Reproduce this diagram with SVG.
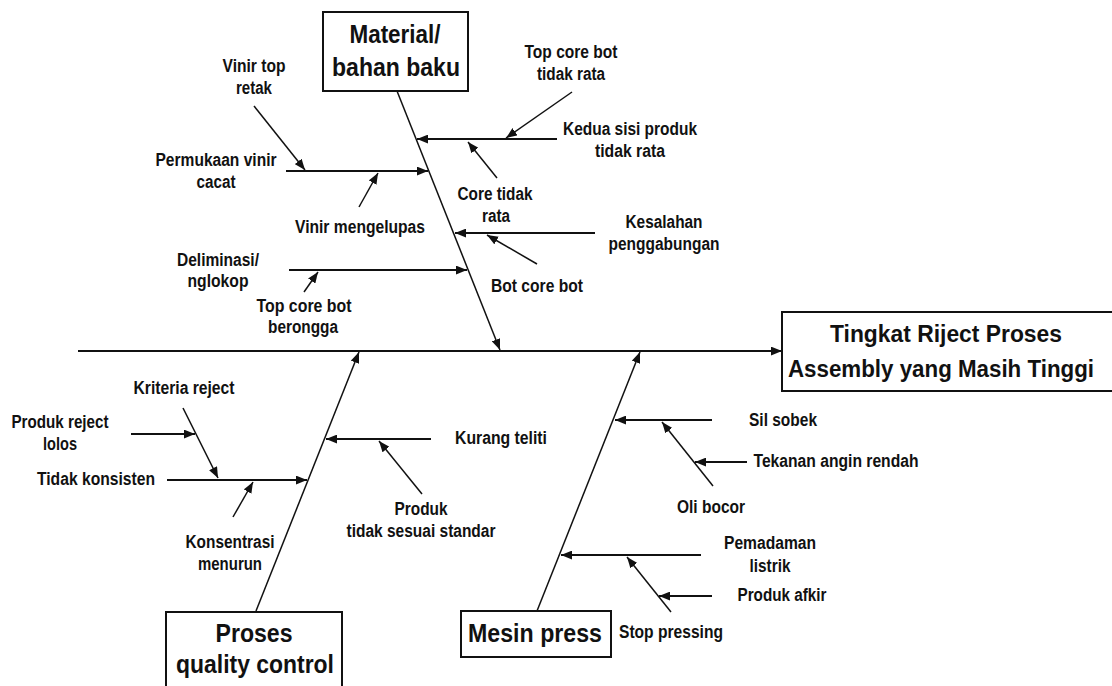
<svg xmlns="http://www.w3.org/2000/svg" width="1112" height="686" viewBox="0 0 1112 686">
<style>
.t{font-family:"Liberation Sans",Arial,sans-serif;font-weight:bold;fill:#111;text-anchor:middle}
.title{font-size:25px}
.eff{font-size:23px}
.lbl{font-size:17.5px}
.box{fill:#fff;stroke:#111;stroke-width:2}
.ln{stroke:#111;fill:none}
.h{stroke-width:2}
.d{stroke-width:1.5}
</style>
<defs>
<marker id="ah" viewBox="0 0 10 8" refX="10" refY="4" markerWidth="11" markerHeight="9" markerUnits="userSpaceOnUse" orient="auto">
<path d="M0,0L10,4L0,8z" fill="#111"/>
</marker>
</defs>
<rect width="1112" height="686" fill="#fff"/>
<g id="connectors">
<line class="ln h" x1="78" y1="351" x2="782" y2="351" marker-end="url(#ah)"/>
<line class="ln d" x1="397" y1="91" x2="500" y2="350" marker-end="url(#ah)"/>
<line class="ln d" x1="256" y1="611" x2="359" y2="352" marker-end="url(#ah)"/>
<line class="ln d" x1="537" y1="611" x2="640" y2="352" marker-end="url(#ah)"/>
<line class="ln h" x1="286" y1="171" x2="428" y2="171" marker-end="url(#ah)"/>
<line class="ln d" x1="254" y1="106" x2="305" y2="170" marker-end="url(#ah)"/>
<line class="ln d" x1="359" y1="207" x2="378" y2="173" marker-end="url(#ah)"/>
<line class="ln h" x1="289" y1="270" x2="467" y2="270" marker-end="url(#ah)"/>
<line class="ln d" x1="304" y1="292" x2="318" y2="272" marker-end="url(#ah)"/>
<line class="ln h" x1="557" y1="139" x2="417" y2="139" marker-end="url(#ah)"/>
<line class="ln d" x1="572" y1="92" x2="506" y2="138" marker-end="url(#ah)"/>
<line class="ln d" x1="497" y1="178" x2="468" y2="142" marker-end="url(#ah)"/>
<line class="ln h" x1="595" y1="233" x2="455" y2="233" marker-end="url(#ah)"/>
<line class="ln d" x1="537" y1="264" x2="487" y2="235" marker-end="url(#ah)"/>
<line class="ln h" x1="167" y1="480" x2="307" y2="480" marker-end="url(#ah)"/>
<line class="ln d" x1="183" y1="408" x2="218" y2="478" marker-end="url(#ah)"/>
<line class="ln h" x1="131" y1="434" x2="195" y2="434" marker-end="url(#ah)"/>
<line class="ln d" x1="233" y1="517" x2="253" y2="482" marker-end="url(#ah)"/>
<line class="ln h" x1="431" y1="439" x2="326" y2="439" marker-end="url(#ah)"/>
<line class="ln d" x1="422" y1="494" x2="379" y2="441" marker-end="url(#ah)"/>
<line class="ln h" x1="712" y1="420" x2="615" y2="420" marker-end="url(#ah)"/>
<line class="ln d" x1="713" y1="486" x2="662" y2="422" marker-end="url(#ah)"/>
<line class="ln h" x1="747" y1="462" x2="695" y2="462" marker-end="url(#ah)"/>
<line class="ln h" x1="701" y1="555" x2="561" y2="555" marker-end="url(#ah)"/>
<line class="ln d" x1="671" y1="612" x2="627" y2="557" marker-end="url(#ah)"/>
<line class="ln h" x1="712" y1="596" x2="659" y2="596" marker-end="url(#ah)"/>
</g>
<g id="effect">
<rect class="box" x="782" y="312" width="345" height="79"/>
<text class="t eff" x="946" y="342" textLength="232" lengthAdjust="spacingAndGlyphs">Tingkat Riject Proses</text>
<text class="t eff" x="941" y="377" textLength="306" lengthAdjust="spacingAndGlyphs">Assembly yang Masih Tinggi</text>
</g>
<g id="cat-material">
<rect class="box" x="323" y="12" width="145" height="79"/>
<text class="t title" x="395" y="43" textLength="91" lengthAdjust="spacingAndGlyphs">Material/</text>
<text class="t title" x="396" y="76" textLength="128" lengthAdjust="spacingAndGlyphs">bahan baku</text>
</g>
<g id="cat-qc">
<rect class="box" x="166" y="612" width="176" height="90"/>
<text class="t title" x="254" y="642" textLength="77" lengthAdjust="spacingAndGlyphs">Proses</text>
<text class="t title" x="255" y="673" textLength="158" lengthAdjust="spacingAndGlyphs">quality control</text>
</g>
<g id="cat-mesin">
<rect class="box" x="461" y="611" width="150" height="46"/>
<text class="t title" x="535" y="642" textLength="134" lengthAdjust="spacingAndGlyphs">Mesin press</text>
</g>
<g id="c-vinir-top"><text class="t lbl" x="254" y="72" textLength="63" lengthAdjust="spacingAndGlyphs">Vinir top</text><text class="t lbl" x="254" y="94" textLength="36" lengthAdjust="spacingAndGlyphs">retak</text></g>
<g id="c-permukaan"><text class="t lbl" x="216" y="166" textLength="121" lengthAdjust="spacingAndGlyphs">Permukaan vinir</text><text class="t lbl" x="216" y="188" textLength="39" lengthAdjust="spacingAndGlyphs">cacat</text></g>
<g id="c-mengelupas"><text class="t lbl" x="360" y="233" textLength="130" lengthAdjust="spacingAndGlyphs">Vinir mengelupas</text></g>
<g id="c-deliminasi"><text class="t lbl" x="218" y="266" textLength="82" lengthAdjust="spacingAndGlyphs">Deliminasi/</text><text class="t lbl" x="218" y="287" textLength="61" lengthAdjust="spacingAndGlyphs">nglokop</text></g>
<g id="c-berongga"><text class="t lbl" x="304" y="312" textLength="95" lengthAdjust="spacingAndGlyphs">Top core bot</text><text class="t lbl" x="303" y="333" textLength="70" lengthAdjust="spacingAndGlyphs">berongga</text></g>
<g id="c-tcb-tidak-rata"><text class="t lbl" x="571" y="58" textLength="93" lengthAdjust="spacingAndGlyphs">Top core bot</text><text class="t lbl" x="571" y="80" textLength="68" lengthAdjust="spacingAndGlyphs">tidak rata</text></g>
<g id="c-kedua-sisi"><text class="t lbl" x="630" y="135" textLength="134" lengthAdjust="spacingAndGlyphs">Kedua sisi produk</text><text class="t lbl" x="630" y="157" textLength="70" lengthAdjust="spacingAndGlyphs">tidak rata</text></g>
<g id="c-core-tidak-rata"><text class="t lbl" x="495" y="200" textLength="75" lengthAdjust="spacingAndGlyphs">Core tidak</text><text class="t lbl" x="496" y="222" textLength="28" lengthAdjust="spacingAndGlyphs">rata</text></g>
<g id="c-kesalahan"><text class="t lbl" x="664" y="228" textLength="77" lengthAdjust="spacingAndGlyphs">Kesalahan</text><text class="t lbl" x="664" y="250" textLength="111" lengthAdjust="spacingAndGlyphs">penggabungan</text></g>
<g id="c-bot-core"><text class="t lbl" x="537" y="292" textLength="92" lengthAdjust="spacingAndGlyphs">Bot core bot</text></g>
<g id="c-kriteria"><text class="t lbl" x="184" y="394" textLength="101" lengthAdjust="spacingAndGlyphs">Kriteria reject</text></g>
<g id="c-produk-reject"><text class="t lbl" x="60" y="428" textLength="97" lengthAdjust="spacingAndGlyphs">Produk reject</text><text class="t lbl" x="60" y="450" textLength="34" lengthAdjust="spacingAndGlyphs">lolos</text></g>
<g id="c-tidak-konsisten"><text class="t lbl" x="96" y="485" textLength="118" lengthAdjust="spacingAndGlyphs">Tidak konsisten</text></g>
<g id="c-konsentrasi"><text class="t lbl" x="230" y="548" textLength="89" lengthAdjust="spacingAndGlyphs">Konsentrasi</text><text class="t lbl" x="230" y="570" textLength="64" lengthAdjust="spacingAndGlyphs">menurun</text></g>
<g id="c-kurang-teliti"><text class="t lbl" x="501" y="444" textLength="92" lengthAdjust="spacingAndGlyphs">Kurang teliti</text></g>
<g id="c-produk-standar"><text class="t lbl" x="421" y="515" textLength="53" lengthAdjust="spacingAndGlyphs">Produk</text><text class="t lbl" x="421" y="537" textLength="149" lengthAdjust="spacingAndGlyphs">tidak sesuai standar</text></g>
<g id="c-sil-sobek"><text class="t lbl" x="783" y="426" textLength="68" lengthAdjust="spacingAndGlyphs">Sil sobek</text></g>
<g id="c-tekanan"><text class="t lbl" x="836" y="467" textLength="165" lengthAdjust="spacingAndGlyphs">Tekanan angin rendah</text></g>
<g id="c-oli"><text class="t lbl" x="711" y="513" textLength="68" lengthAdjust="spacingAndGlyphs">Oli bocor</text></g>
<g id="c-pemadaman"><text class="t lbl" x="770" y="549" textLength="92" lengthAdjust="spacingAndGlyphs">Pemadaman</text><text class="t lbl" x="770" y="572" textLength="41" lengthAdjust="spacingAndGlyphs">listrik</text></g>
<g id="c-afkir"><text class="t lbl" x="782" y="601" textLength="89" lengthAdjust="spacingAndGlyphs">Produk afkir</text></g>
<g id="c-stop"><text class="t lbl" x="671" y="638" textLength="104" lengthAdjust="spacingAndGlyphs">Stop pressing</text></g>
</svg>
